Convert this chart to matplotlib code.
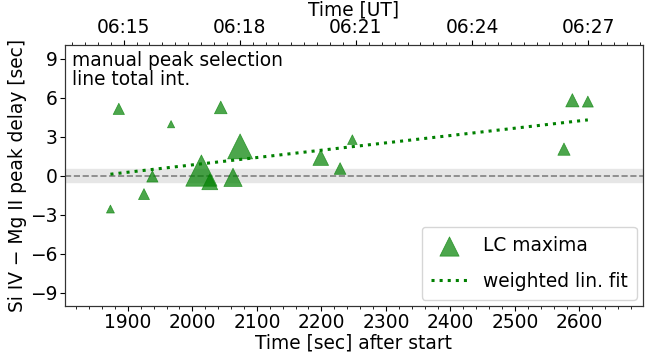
import matplotlib
matplotlib.use("Agg")
import matplotlib.pyplot as plt
from matplotlib.ticker import MultipleLocator
from datetime import datetime

# LC maxima: time after start [s], delay [s], relative weight (marker size)
t_sec = [1873, 1886, 1925, 1938, 1967, 2014, 2027, 2044, 2063, 2074,
         2199, 2229, 2248, 2576, 2589, 2613]
delay = [-2.56, 5.15, -1.41, -0.05, 3.97, 0.40, -0.46, 5.26, -0.12, 2.26,
         1.40, 0.56, 2.78, 2.05, 5.81, 5.71]
weight = [8.0, 11.3, 11.0, 11.3, 7.3, 31.3, 16.0, 12.7, 18.3, 25.0,
          15.7, 11.7, 9.7, 12.3, 13.3, 11.0]

# weighted linear fit, end points
fit_t = [1873, 2613]
fit_delay = [0.12, 4.30]

# observation start and UT tick labels
start_time = "05:43:26.5"
ut_labels = ["06:15", "06:18", "06:21", "06:24", "06:27"]

fs = 13.4

fig = plt.figure(figsize=(6.56, 3.62), dpi=100)
ax = fig.add_axes([0.0995, 0.1555, 0.8802, 0.7215])

ax.axhspan(-0.45, 0.5, color="#e6e6e6", zorder=0)
ax.axhline(0, color="gray", ls="--", lw=1.2, zorder=1)

ax.scatter(t_sec, delay, s=[(w * 0.72) ** 2 for w in weight], marker="^",
           color="green", alpha=0.7, linewidths=0.5, zorder=3, label="LC maxima")
ax.plot(fit_t, fit_delay, ls=":", color="green", lw=2.2, zorder=4,
        label="weighted lin. fit")

ax.set_xlim(1803, 2698)
ax.set_ylim(-10, 10.1)
ax.set_yticks([-9, -6, -3, 0, 3, 6, 9])
ax.set_yticklabels(["\u22129", "\u22126", "\u22123", "0", "3", "6", "9"])
ax.xaxis.set_minor_locator(MultipleLocator(20))
ax.tick_params(labelsize=fs, pad=2)
ax.set_xlabel("Time [sec] after start", fontsize=fs, labelpad=1)
ax.set_ylabel("Si IV \u2212 Mg II peak delay [sec]", fontsize=fs, labelpad=2)

ax.text(0.012, 0.975, "manual peak selection\nline total int.",
        transform=ax.transAxes, ha="left", va="top", fontsize=fs,
        linespacing=1.0)

leg = ax.legend(loc="lower right", fontsize=fs, markerscale=0.85,
                handlelength=2.0, borderpad=0.5, labelspacing=0.9,
                borderaxespad=0.3)

# top axis in UT
t0 = datetime.strptime(start_time, "%H:%M:%S.%f")
ut_pos = []
for lab in ut_labels:
    t = datetime.strptime(lab, "%H:%M")
    ut_pos.append((t - t0).total_seconds())
top = ax.twiny()
top.set_xlim(ax.get_xlim())
top.set_xticks(ut_pos)
top.set_xticklabels(ut_labels)
top.xaxis.set_minor_locator(MultipleLocator(20, offset=ut_pos[0] % 20))
top.tick_params(labelsize=fs, pad=2)
top.set_xlabel("Time [UT]", fontsize=fs, labelpad=2)

for a in (ax, top):
    for sp in a.spines.values():
        sp.set_color("#333333")

fig.savefig("out.png", dpi=100)
